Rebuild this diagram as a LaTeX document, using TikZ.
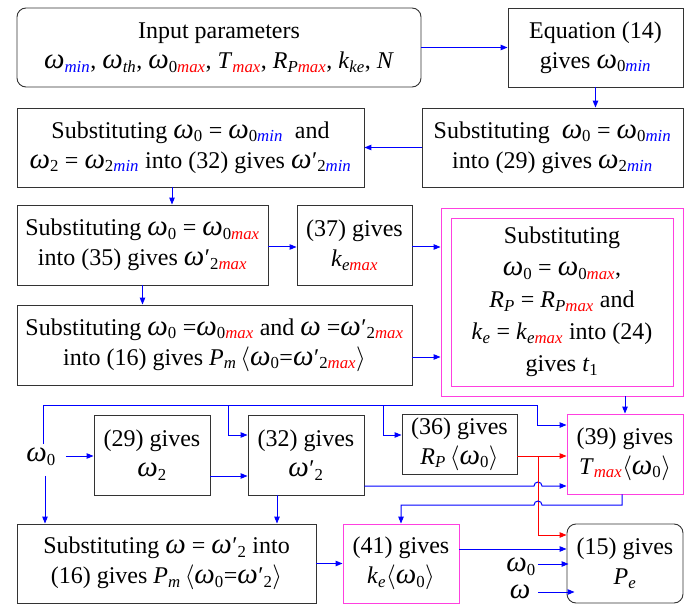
\documentclass[tikz,border=0pt]{standalone}
\usepackage{fontspec}
\setmainfont{Liberation Serif}[Ligatures=TeX]
\newfontfamily\tnr{Liberation Serif}
\usetikzlibrary{arrows.meta}
\definecolor{pk}{RGB}{255,64,224}
\newcommand\om{{\fontsize{29}{30}\selectfont\textit{ω}}}
\newcommand\sbs[1]{\textsubscript{#1}}
\newcommand\mn{\textcolor{blue}{\textit{min}}}
\newcommand\mx{\textcolor{red}{\textit{max}}}
\newcommand\prm{\kern0.5pt′}
\newcommand\agl{$\langle$}
\newcommand\agr{$\rangle$}
\begin{document}
\begin{tikzpicture}[x=1pt,y=-1pt,font=\tnr\fontsize{24}{30}\selectfont,
  bx/.style={draw=black!80,line width=0.9pt,inner sep=0pt,align=center},
  pbx/.style={bx,draw=pk},
  arr/.style={draw=blue,line width=1pt,-{Triangle[length=7pt,width=5.5pt]}},
  rarr/.style={arr,draw=red},
  free/.style={inner sep=0pt}]
\useasboundingbox (0,0) rectangle (694,604);

% boxes
\node[bx,rounded corners=9pt,minimum width=404pt,minimum height=79pt] (inp) at (219,47.5)
  {Input parameters\\ \om\sbs{\mn}, \om\sbs{\textit{th}}, \om\sbs{0\mx}, \textit{T}\sbs{\mx}, \textit{R}\sbs{\textit{P}\mx}, \textit{k}\sbs{\textit{ke}}, \textit{N}};
\node[bx,minimum width=175pt,minimum height=79pt] (eq14) at (595.5,47.5)
  {Equation (14)\\ gives \om\sbs{0\mn}};
\node[bx,minimum width=261pt,minimum height=79pt] (s29) at (552.5,147.5)
  {Substituting \ \om\sbs{0} = \om\sbs{0\mn}\\ into (29) gives \om\sbs{2\mn}};
\node[bx,minimum width=347pt,minimum height=79pt] (s32) at (190.5,147.5)
  {Substituting \om\sbs{0} = \om\sbs{0\mn} \ and\\ \om\sbs{2} = \om\sbs{2\mn} into (32) gives \om\prm\sbs{2\mn}};
\node[bx,minimum width=251pt,minimum height=80pt] (s35) at (142.5,245)
  {Substituting \om\sbs{0} = \om\sbs{0\mx}\\ into (35) gives \om\prm\sbs{2\mx}};
\node[bx,minimum width=115pt,minimum height=80pt] (g37) at (354.5,245)
  {(37) gives\\ \textit{k}\sbs{\textit{e}\mx}};
\node[bx,minimum width=395pt,minimum height=80pt] (s16m) at (214.5,345)
  {Substituting \om\sbs{0} =\om\sbs{0\mx} and \om\ =\om\prm\sbs{2\mx}\\ into (16) gives \textit{P}\sbs{\textit{m}}\,\agl\om\sbs{0}=\om\prm\sbs{2\mx}\agr};
\node[pbx,minimum width=242pt,minimum height=188pt] (pout) at (562,302) {};
\node[pbx,minimum width=222pt,minimum height=168pt,font=\tnr\fontsize{24}{32}\selectfont] (pin) at (562,302)
  {Substituting\\ \om\sbs{0} = \om\sbs{0\mx},\\ \textit{R}\sbs{\textit{P}} = \textit{R}\sbs{\textit{P}\mx} and\\ \textit{k}\sbs{\textit{e}} = \textit{k}\sbs{\textit{e}\mx} into (24)\\ gives \textit{t}\sbs{1}};
\node[bx,minimum width=116pt,minimum height=80pt] (g29) at (152,455)
  {(29) gives\\ \om\sbs{2}};
\node[bx,minimum width=116pt,minimum height=80pt] (g32) at (306,455)
  {(32) gives\\ \om\prm\sbs{2}};
\node[bx,minimum width=115pt,minimum height=60pt] (g36) at (459.5,444)
  {(36) gives\\ \textit{R}\sbs{\textit{P}}\,\agl\om\sbs{0}\agr};
\node[pbx,minimum width=116pt,minimum height=80pt] (g39) at (625,454)
  {(39) gives\\ \textit{T}\sbs{\mx}\agl\om\sbs{0}\agr};
\node[bx,minimum width=299pt,minimum height=79pt] (s16) at (166.5,563.5)
  {Substituting \om\ = \om\prm\sbs{2} into\\ (16) gives \textit{P}\sbs{\textit{m}}\,\agl\om\sbs{0}=\om\prm\sbs{2}\agr};
\node[pbx,minimum width=116pt,minimum height=79pt] (g41) at (401,563.5)
  {(41) gives\\ \textit{k}\sbs{\textit{e}}\agl\om\sbs{0}\agr};
\node[bx,rounded corners=9pt,minimum width=116pt,minimum height=79pt] (g15) at (625,563.5)
  {(15) gives\\ \textit{P}\sbs{\textit{e}}};

% free texts
\node[free,inner sep=10pt] (w0a) at (41,457) {\om\sbs{0}};
\node[free,inner sep=0pt] (w0b) at (521,567) {\om\sbs{0}};
\node[free,inner sep=0pt] (w1) at (520,592) {\om};

% coordinates
\coordinate (c1) at (43,405);
\coordinate (c2) at (537,405);
\coordinate (b1) at (228,405);
\coordinate (b2) at (383,405);
\coordinate (r1) at (538,456);

% connectors top part
\draw[arr] (inp) -- (eq14);
\draw[arr] (eq14.south) -- (eq14.south |- s29.north);
\draw[arr] (s29) -- (s32);
\draw[arr] ([xshift=-18.5pt]s32.south) -- ([xshift=-18.5pt]s32.south |- s35.north);
\draw[arr] ([yshift=-2pt]s35.east) -- ([yshift=-2pt]s35.east -| g37.west);
\draw[arr] (s35.south) -- (s35.south |- s16m.north);
\draw[arr] ([yshift=-2pt]g37.east) -- ([yshift=-2pt]g37.east -| pout.west);
\draw[arr] ([yshift=-12pt]s16m.east) -- ([yshift=-12pt]s16m.east -| pout.west);
\draw[arr] (g39.north |- pout.south) -- (g39.north);

% omega0 distribution
\draw[arr] ([xshift=2pt,yshift=-6pt]w0a.north) -- (c1) -- (c2) |- ([yshift=29pt]g39.west);
\draw[arr] (b1) |- ([yshift=20pt]g32.west);
\draw[arr] (b2) |- ([yshift=9pt]g36.west);
\draw[arr] ([yshift=1pt]w0a.east) -- ([yshift=1pt]w0a.east -| g29.west);
\draw[arr] ([xshift=4pt]w0a.south) -- ([xshift=4pt]w0a.south |- s16.north);

% middle row
\draw[arr] ([yshift=-21pt]g29.east) -- ([yshift=-21pt]g29.east -| g32.west);
\draw[arr] ([xshift=-29pt]g32.south) -- ([xshift=-29pt]g32.south |- s16.north);
\draw[arr] ([yshift=-31pt]g32.east) -- (534,486) arc[start angle=180,end angle=0,radius=4pt] -- ([yshift=-32pt]g39.west);
\draw[rarr] ([yshift=-12pt]g36.east) -- ([yshift=-2pt]g39.west);
\draw[rarr] (r1) |- ([yshift=28.5pt]g15.west);
\draw[arr] ([xshift=-3pt]g39.south) |- (542,505) arc[start angle=0,end angle=180,radius=4pt] -| (g41.north);

% bottom row
\draw[arr] (s16) -- (g41);
\draw[arr] ([yshift=14.5pt]g41.east) -- ([yshift=14.5pt]g41.east -| g15.west);
\draw[arr] ([xshift=2pt,yshift=3pt]w0b.east) -- ([xshift=2pt,yshift=3pt]w0b.east -| g15.west);
\draw[arr] ([xshift=8pt]w1.east) -- ([xshift=8pt]w1.east -| g15.west);
\end{tikzpicture}
\end{document}
